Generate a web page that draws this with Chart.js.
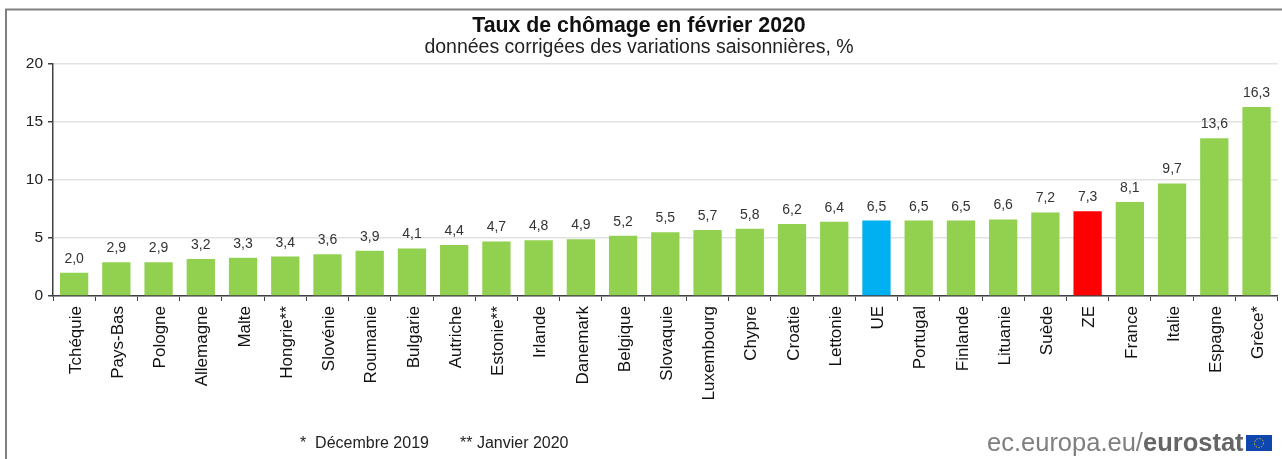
<!DOCTYPE html>
<html><head><meta charset="utf-8">
<style>html,body{margin:0;padding:0;background:#fff}canvas{display:block}</style>
<script src="https://cdn.jsdelivr.net/npm/chart.js@4"></script>
</head><body>
<div style="width:1282px;height:459px;position:relative"><canvas id="c" width="1282" height="459"></canvas></div>
<script>
const categories=["Tchéquie","Pays-Bas","Pologne","Allemagne","Malte","Hongrie**","Slovénie","Roumanie","Bulgarie","Autriche","Estonie**","Irlande","Danemark","Belgique","Slovaquie","Luxembourg","Chypre","Croatie","Lettonie","UE","Portugal","Finlande","Lituanie","Suède","ZE","France","Italie","Espagne","Grèce*"];
const values=[2.0,2.9,2.9,3.2,3.3,3.4,3.6,3.9,4.1,4.4,4.7,4.8,4.9,5.2,5.5,5.7,5.8,6.2,6.4,6.5,6.5,6.5,6.6,7.2,7.3,8.1,9.7,13.6,16.3];
const yTicks=[0,5,10,15,20];
const titleText="Taux de chômage en février 2020";
const subtitleText="données corrigées des variations saisonnières, %";
const note1="*  Décembre 2019";
const note2="** Janvier 2020";
const GREEN="#92d050",BLUE="#00b0f0",RED="#ff0000";
const colors=categories.map(c=>c==="UE"?BLUE:c==="ZE"?RED:GREEN);
const F='"Liberation Sans", Arial, sans-serif';
const extras={id:"extras",
 beforeDraw(ch){const x=ch.ctx;x.save();x.strokeStyle="#808080";x.lineWidth=2;
  x.beginPath();x.moveTo(6,459);x.lineTo(6,9.5);x.lineTo(1282,9.5);x.stroke();x.restore();},
 afterDatasetsDraw(ch){const x=ch.ctx,m=ch.getDatasetMeta(0);x.save();
  x.font="14px "+F;x.fillStyle="#333";x.textAlign="center";x.textBaseline="alphabetic";
  m.data.forEach((b,i)=>x.fillText(values[i].toFixed(1).replace(".",","),b.x,b.y-10));
  x.fillStyle="#222";x.font="16px "+F;x.textAlign="left";
  x.fillText(note1,300,448);x.fillText(note2,460,448);
  x.font="25.5px "+F;x.fillStyle="#7f7f7f";x.fillText("ec.europa.eu/",987,451);
  const w=x.measureText("ec.europa.eu/").width;x.font="bold 25.5px "+F;x.fillStyle="#666";x.fillText("eurostat",987+w,451);
  x.fillStyle="#0f47af";x.fillRect(1246,435,26,16);
  x.strokeStyle="#d8c020";x.lineWidth=1;x.setLineDash([1.5,1.5]);x.beginPath();x.arc(1259,443,4.5,0,Math.PI*2);x.stroke();
  x.restore();}};
new Chart(document.getElementById("c"),{type:"bar",
 data:{labels:categories,datasets:[{data:values,backgroundColor:colors,borderWidth:0,categoryPercentage:1,barPercentage:0.67}]},
 plugins:[extras],
 options:{responsive:false,animation:false,
  layout:{padding:{left:0,right:4,top:0,bottom:0}},
  plugins:{legend:{display:false},tooltip:{enabled:false},
   title:{display:true,text:titleText,color:"#111",font:{family:F,size:21.3,weight:"bold",lineHeight:1},padding:{top:15.5,bottom:0}},
   subtitle:{display:true,text:subtitleText,color:"#222",font:{family:F,size:19.5,weight:"normal",lineHeight:1},padding:{top:1,bottom:6.7}}},
  scales:{
   x:{grid:{display:true,drawOnChartArea:false,color:"#404040",tickLength:5,offset:true},border:{color:"#404040",width:1.5},
      ticks:{autoSkip:false,minRotation:90,maxRotation:90,color:"#111",padding:5,labelOffset:2,font:{family:F,size:17}},
      afterFit(a){a.height=163;}},
   y:{min:0,max:20,grid:{color:"#e2e2e2",lineWidth:1.5,tickColor:"#404040",tickLength:5},border:{color:"#404040",width:1.5},
      afterBuildTicks(a){a.ticks=yTicks.map(v=>({value:v}));},
      ticks:{color:"#222",padding:5,font:{family:F,size:15.5}},
      afterFit(a){a.width=53;}}
  }}});
</script></body></html>
